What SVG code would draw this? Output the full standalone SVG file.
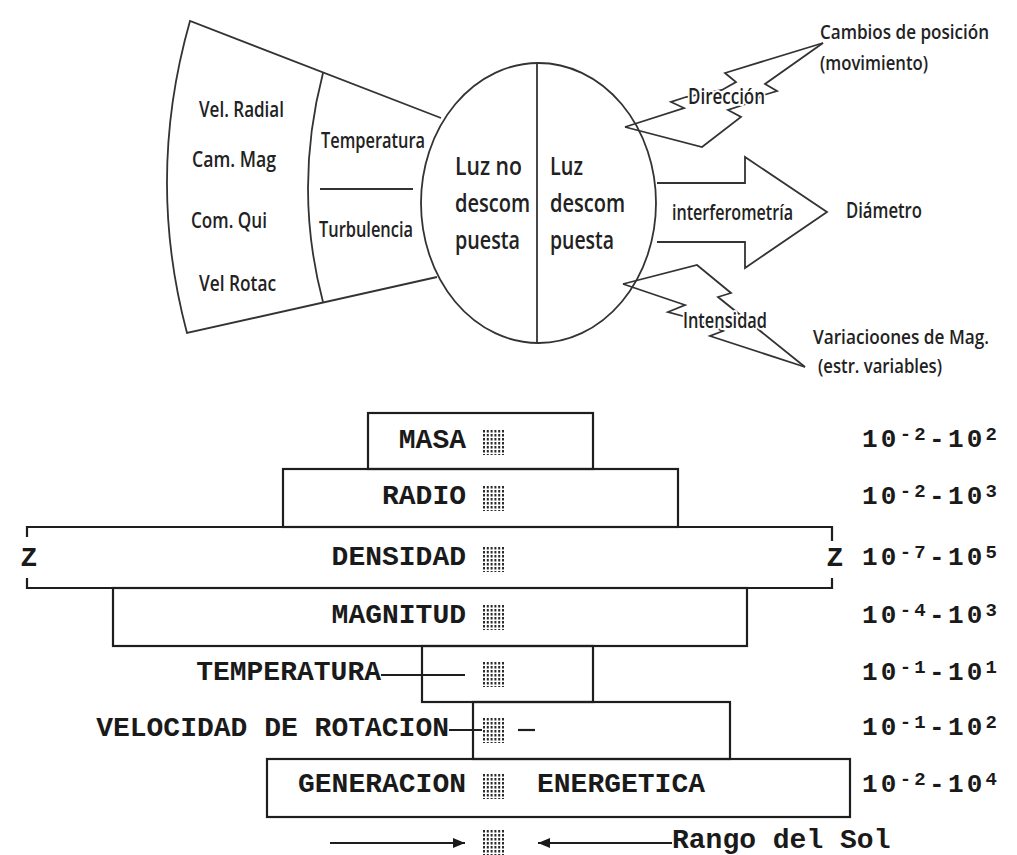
<svg xmlns="http://www.w3.org/2000/svg" width="1017" height="855" viewBox="0 0 1017 855">
<style>
  .ln { fill: none; stroke: #333; stroke-width: 1.8; stroke-linejoin: miter; }
  .bx { fill: none; stroke: #1e1e1e; stroke-width: 2.2; }
  .t { font-family: "Open Sans", "Liberation Sans", sans-serif; font-size: 21px; font-weight: 600; fill: #222; }
  .ts { font-family: "Open Sans", "Liberation Sans", sans-serif; font-size: 19px; font-weight: 600; fill: #222; }
  .tb { font-family: "Open Sans", "Liberation Sans", sans-serif; font-size: 25px; font-weight: 600; fill: #222; }
  .halo { stroke: #fff; stroke-width: 4; paint-order: stroke; stroke-linejoin: round; }
  .m { font-family: "Liberation Mono", "DejaVu Sans Mono", monospace; font-size: 28px; font-weight: bold; fill: #1a1a1a; }
  .num { font-family: "Liberation Mono", "DejaVu Sans Mono", monospace; font-size: 26px; font-weight: bold; fill: #1a1a1a; }
  .sup { font-size: 19px; }
  .hl { stroke: #2a2a2a; stroke-width: 2; stroke-dasharray: 2.5 1.5; }
</style>
<defs>
  <g id="hatch">
    <line class="hl" x1="484" y1="0" x2="484" y2="25"/>
    <line class="hl" x1="487.8" y1="0" x2="487.8" y2="25"/>
    <line class="hl" x1="491.6" y1="0" x2="491.6" y2="25"/>
    <line class="hl" x1="495.4" y1="0" x2="495.4" y2="25"/>
    <line class="hl" x1="499.2" y1="0" x2="499.2" y2="25"/>
    <line class="hl" x1="503" y1="0" x2="503" y2="25"/>
  </g>
  <marker id="tri" viewBox="0 0 12 10" refX="12" refY="5" markerWidth="12" markerHeight="10" markerUnits="userSpaceOnUse" orient="auto">
    <path d="M0,0 L12,5 L0,10 Z" fill="#1a1a1a"/>
  </marker>
</defs>
<rect width="1017" height="855" fill="#fff"/>

<!-- ===== Upper diagram ===== -->
<g id="fan">
  <path class="ln" d="M441,118 L190,21 Q145.5,177 187,333 L437,277"/>
  <path class="ln" d="M323,73 Q293,188.5 323,302"/>
  <line class="ln" x1="320" y1="189" x2="413" y2="189"/>
  <text class="t" x="199" y="117" textLength="85" lengthAdjust="spacingAndGlyphs">Vel. Radial</text>
  <text class="t" x="192" y="167" textLength="84" lengthAdjust="spacingAndGlyphs">Cam. Mag</text>
  <text class="t" x="191" y="228" textLength="76" lengthAdjust="spacingAndGlyphs">Com. Qui</text>
  <text class="t" x="199" y="291" textLength="77" lengthAdjust="spacingAndGlyphs">Vel Rotac</text>
  <text class="t" x="321" y="148" textLength="104" lengthAdjust="spacingAndGlyphs">Temperatura</text>
  <text class="t" x="319" y="237" textLength="94" lengthAdjust="spacingAndGlyphs">Turbulencia</text>
</g>

<g id="luz">
  <ellipse class="ln" cx="538.5" cy="203" rx="117.5" ry="140"/>
  <line class="ln" x1="537" y1="63" x2="537" y2="343"/>
  <text class="tb" x="455" y="175" textLength="67" lengthAdjust="spacingAndGlyphs">Luz no</text>
  <text class="tb" x="455" y="212" textLength="75" lengthAdjust="spacingAndGlyphs">descom</text>
  <text class="tb" x="455" y="249" textLength="65" lengthAdjust="spacingAndGlyphs">puesta</text>
  <text class="tb" x="550" y="175" textLength="33" lengthAdjust="spacingAndGlyphs">Luz</text>
  <text class="tb" x="550" y="212" textLength="75" lengthAdjust="spacingAndGlyphs">descom</text>
  <text class="tb" x="550" y="249" textLength="64" lengthAdjust="spacingAndGlyphs">puesta</text>
</g>

<g id="connectors">
  <!-- upper bolt: Dirección -->
  <path class="ln" d="M625,127 L684,108 L671,102 L686,97 L722,90 L736,82 L725,73 L823,43"/>
  <path class="ln" d="M625,127 L702,147 L741,117 L728,110 L746,104 L764,95 L777,91 L765,84 L823,43"/>
  <!-- big arrow: interferometría -->
  <path class="ln" d="M657,183 L745,183 L745,157 L827,212 L745,268 L745,242 L657,242"/>
  <!-- lower bolt: Intensidad -->
  <path class="ln" d="M623,284 L697,265 L731,293 L718,297 L805,367"/>
  <path class="ln" d="M623,284 L685,305 L668,312 L690,318 L723,331 L710,336 L805,367"/>
</g>

<g id="direccion">
  <text class="t halo" x="688" y="104" textLength="77" lengthAdjust="spacingAndGlyphs">Dirección</text>
</g>
<g id="interferometria">
  <text class="t" x="672" y="220" textLength="121" lengthAdjust="spacingAndGlyphs">interferometría</text>
</g>
<g id="intensidad">
  <text class="t halo" x="683" y="328" textLength="84" lengthAdjust="spacingAndGlyphs">Intensidad</text>
</g>
<g id="cambios">
  <text class="ts" x="820" y="39" textLength="169" lengthAdjust="spacingAndGlyphs">Cambios de posición</text>
  <text class="ts" x="820" y="70" textLength="108" lengthAdjust="spacingAndGlyphs">(movimiento)</text>
</g>
<g id="diametro">
  <text class="t" x="846" y="218" textLength="76" lengthAdjust="spacingAndGlyphs">Diámetro</text>
</g>
<g id="variaciones">
  <text class="ts" x="813" y="344" textLength="176" lengthAdjust="spacingAndGlyphs">Variacioones de Mag.</text>
  <text class="ts" x="818" y="373" textLength="124" lengthAdjust="spacingAndGlyphs">(estr. variables)</text>
</g>

<!-- ===== Lower diagram ===== -->
<g id="masa">
  <rect class="bx" x="368" y="413" width="225" height="56"/>
  <text class="m" x="466" y="448" text-anchor="end">MASA</text>
  <use href="#hatch" y="430"/>
  <text class="num" x="862" y="447" textLength="135">10<tspan class="sup" dy="-7">-2</tspan><tspan dy="7">-10</tspan><tspan class="sup" dy="-7">2</tspan></text>
</g>
<g id="radio">
  <rect class="bx" x="283" y="469" width="395" height="58"/>
  <text class="m" x="466" y="504" text-anchor="end">RADIO</text>
  <use href="#hatch" y="486"/>
  <text class="num" x="862" y="504" textLength="135">10<tspan class="sup" dy="-7">-2</tspan><tspan dy="7">-10</tspan><tspan class="sup" dy="-7">3</tspan></text>
</g>
<g id="densidad">
  <path class="bx" d="M27,537 L27,527 L832,527 L832,541 M832,578 L832,588 L27,588 L27,578"/>
  <text class="m" x="29" y="566" text-anchor="middle">Z</text>
  <text class="m" x="835" y="566" text-anchor="middle">Z</text>
  <text class="m" x="466" y="565" text-anchor="end">DENSIDAD</text>
  <use href="#hatch" y="547"/>
  <text class="num" x="862" y="565" textLength="135">10<tspan class="sup" dy="-7">-7</tspan><tspan dy="7">-10</tspan><tspan class="sup" dy="-7">5</tspan></text>
</g>
<g id="magnitud">
  <rect class="bx" x="113" y="588" width="634" height="58"/>
  <text class="m" x="466" y="623" text-anchor="end">MAGNITUD</text>
  <use href="#hatch" y="605"/>
  <text class="num" x="862" y="623" textLength="135">10<tspan class="sup" dy="-7">-4</tspan><tspan dy="7">-10</tspan><tspan class="sup" dy="-7">3</tspan></text>
</g>
<g id="temperatura">
  <rect class="bx" x="422" y="646" width="171" height="56"/>
  <text class="m" x="381" y="680" text-anchor="end">TEMPERATURA</text>
  <line class="bx" x1="381" y1="675" x2="465" y2="675"/>
  <use href="#hatch" y="662"/>
  <text class="num" x="862" y="680" textLength="135">10<tspan class="sup" dy="-7">-1</tspan><tspan dy="7">-10</tspan><tspan class="sup" dy="-7">1</tspan></text>
</g>
<g id="velocidad">
  <rect class="bx" x="473" y="702" width="257" height="57"/>
  <text class="m" x="449" y="736" text-anchor="end">VELOCIDAD DE ROTACION</text>
  <line class="bx" x1="449" y1="730" x2="482" y2="730"/>
  <line class="bx" x1="518" y1="730" x2="535" y2="730"/>
  <use href="#hatch" y="718"/>
  <text class="num" x="862" y="735" textLength="135">10<tspan class="sup" dy="-7">-1</tspan><tspan dy="7">-10</tspan><tspan class="sup" dy="-7">2</tspan></text>
</g>
<g id="generacion">
  <rect class="bx" x="267" y="759" width="583" height="58"/>
  <text class="m" x="466" y="792" text-anchor="end">GENERACION</text>
  <text class="m" x="537" y="792">ENERGETICA</text>
  <use href="#hatch" y="774"/>
  <text class="num" x="862" y="792" textLength="135">10<tspan class="sup" dy="-7">-2</tspan><tspan dy="7">-10</tspan><tspan class="sup" dy="-7">4</tspan></text>
</g>
<g id="rango">
  <use href="#hatch" y="830"/>
  <line class="bx" x1="330" y1="843" x2="465" y2="843" marker-end="url(#tri)"/>
  <line class="bx" x1="672" y1="843" x2="538" y2="843" marker-end="url(#tri)"/>
  <text class="m" x="672" y="848">Rango del Sol</text>
</g>
</svg>
